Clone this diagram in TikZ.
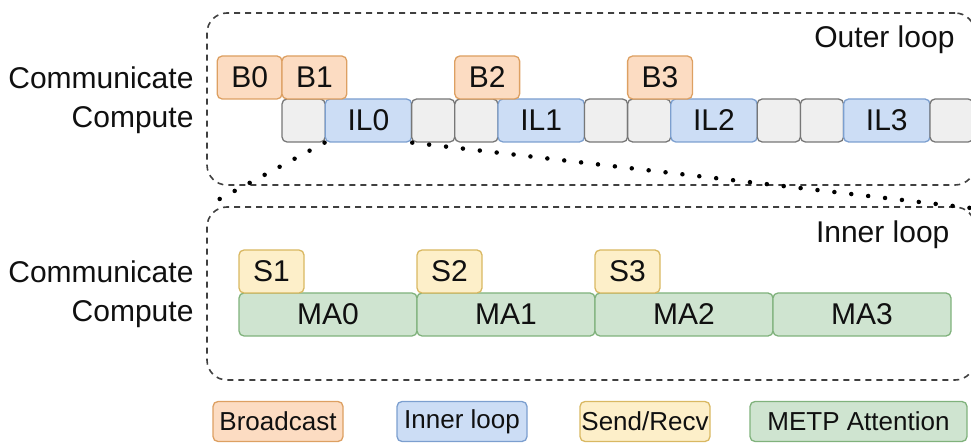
\documentclass[tikz,border=0pt]{standalone}
\usepackage{fontspec}
\setmainfont{Liberation Sans}
\definecolor{bfill}{HTML}{FCDCC2}\definecolor{bdraw}{HTML}{DDA062}
\definecolor{sfill}{HTML}{FDEFC9}\definecolor{sdraw}{HTML}{D9B862}
\definecolor{gfill}{HTML}{CFE4D0}\definecolor{gdraw}{HTML}{80B27C}
\definecolor{lfill}{HTML}{CCDDF5}\definecolor{ldraw}{HTML}{7C9FCF}
\definecolor{efill}{HTML}{EFEFEF}\definecolor{edraw}{HTML}{777777}
\definecolor{txt}{HTML}{101010}
\begin{document}
\begin{tikzpicture}[x=1pt,y=-1pt,
  every node/.style={text=txt},
  big/.style={font=\fontsize{30}{36}\selectfont},
  small/.style={font=\fontsize{26}{31}\selectfont},
  cell/.style={draw, rounded corners=5pt, line width=1.3pt, inner sep=0pt,
    minimum height=43pt, big},
  bcast/.style={cell, fill=bfill, draw=bdraw, minimum width=64.8pt},
  sendrecv/.style={cell, fill=sfill, draw=sdraw, minimum width=65pt},
  attn/.style={cell, fill=gfill, draw=gdraw, minimum width=178pt},
  iloop/.style={cell, fill=lfill, draw=ldraw, minimum width=86.4pt},
  idle/.style={cell, fill=efill, draw=edraw, minimum width=43.2pt},
  legend/.style={draw, rounded corners=5pt, line width=1.3pt, inner sep=0pt,
    minimum height=40pt, small},
  loopbox/.style={draw=black!75, line width=1.6pt, dash pattern=on 6pt off 5pt,
    rounded corners=20pt, inner sep=0pt},
  rowlabel/.style={big, anchor=east},
  zoomline/.style={line width=4.5pt, dash pattern=on 0pt off 17pt, line cap=round}]
\useasboundingbox (0,0) rectangle (971,443);
\clip (0,0) rectangle (971,443);

% loop frames
\node[loopbox, minimum width=768pt, minimum height=172pt] (outer) at (591,99) {};
\node[loopbox, minimum width=768pt, minimum height=173pt] (inner) at (591,293.5) {};
\node[big, anchor=east] (outerlbl) at (958,40) {Outer loop};
\node[big, anchor=east] (innerlbl) at (953,235) {Inner loop};

% row labels
\node[rowlabel] (comm1) at (197,77.5) {Communicate};
\node[rowlabel] (comp1) at (197,120.5) {Compute};
\node[rowlabel] (comm2) at (197,271.5) {Communicate};
\node[rowlabel] (comp2) at (197,314.5) {Compute};

% outer loop: compute row
\node[idle]  (g0)  at (303.6,120.5) {};
\node[iloop] (IL0) at (368.4,120.5) {IL0};
\node[idle]  (g1)  at (433.2,120.5) {};
\node[idle]  (g2)  at (476.4,120.5) {};
\node[iloop] (IL1) at (541.2,120.5) {IL1};
\node[idle]  (g3)  at (606.0,120.5) {};
\node[idle]  (g4)  at (649.2,120.5) {};
\node[iloop] (IL2) at (714.0,120.5) {IL2};
\node[idle]  (g5)  at (778.8,120.5) {};
\node[idle]  (g6)  at (822.0,120.5) {};
\node[iloop] (IL3) at (886.8,120.5) {IL3};
\node[idle]  (g7)  at (951.6,120.5) {};

% outer loop: communication row
\node[bcast] (B0) at (249.6,77.5) {B0};
\node[bcast] (B1) at (314.4,77.5) {B1};
\node[bcast] (B2) at (487.2,77.5) {B2};
\node[bcast] (B3) at (660.0,77.5) {B3};

% zoom lines from IL0 to the inner loop frame
\coordinate (zr) at (975,208.5);
\draw[zoomline] (IL0.south west) -- (inner.north west);
\draw[zoomline] (IL0.south east) -- (zr);

% inner loop rows
\node[attn] (MA0) at (328,314.5) {MA0};
\node[attn] (MA1) at (506,314.5) {MA1};
\node[attn] (MA2) at (684,314.5) {MA2};
\node[attn] (MA3) at (862,314.5) {MA3};
\node[sendrecv] (S1) at (271.5,271.5) {S1};
\node[sendrecv] (S2) at (449.5,271.5) {S2};
\node[sendrecv] (S3) at (627.5,271.5) {S3};

% legend
\node[legend, fill=bfill, draw=bdraw, minimum width=130pt] (lb) at (278,421.5) {Broadcast};
\node[legend, fill=lfill, draw=ldraw, minimum width=130pt] (li) at (462,421.5) {Inner loop};
\node[legend, fill=sfill, draw=sdraw, minimum width=130pt] (ls) at (645,421.5) {Send/Recv};
\node[legend, fill=gfill, draw=gdraw, minimum width=217pt] (lm) at (858.5,421.5) {METP Attention};
\end{tikzpicture}
\end{document}
